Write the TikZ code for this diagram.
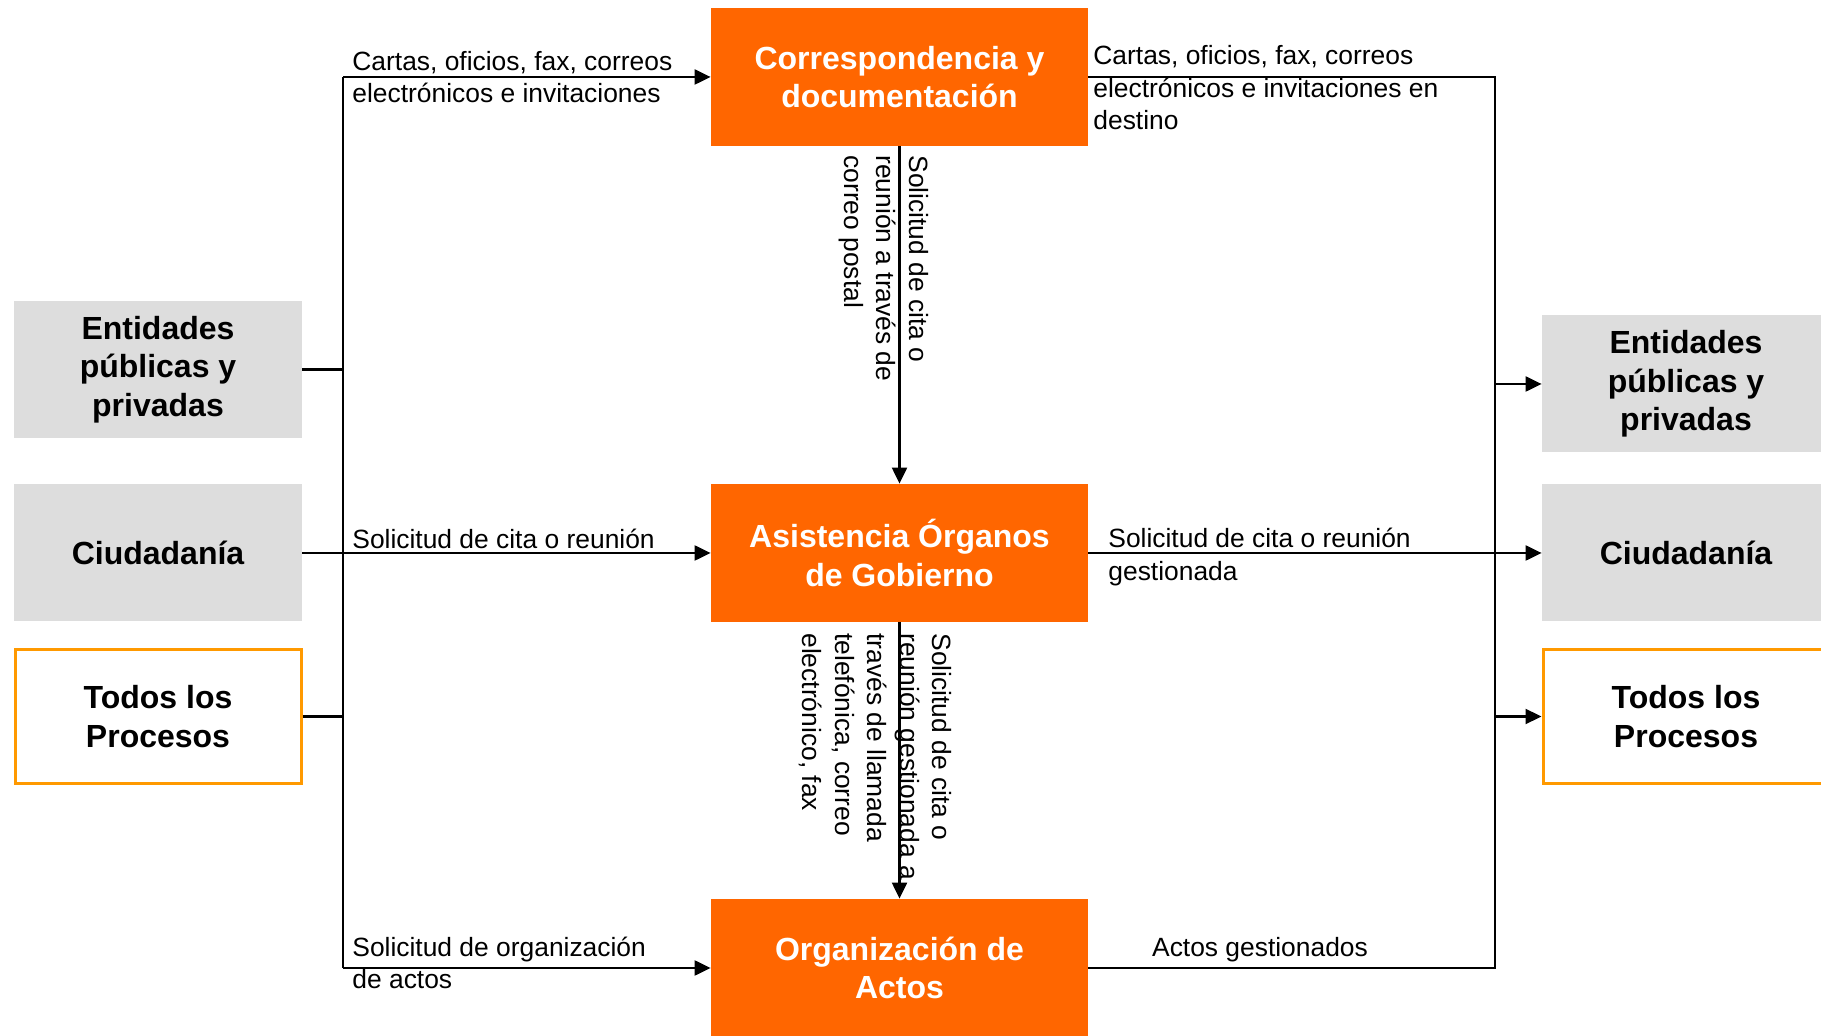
\documentclass[tikz,border=0pt]{standalone}
\usepackage{fontspec}
\setmainfont{Liberation Sans}
\usetikzlibrary{arrows.meta}
\definecolor{naranja}{HTML}{FF6600}
\definecolor{gris}{HTML}{DDDDDD}
\definecolor{borde}{HTML}{FF9900}

\begin{document}
\begin{tikzpicture}[x=0.5pt, y=-0.5pt,
    proceso/.style={fill=naranja, text=white, font=\fontsize{16}{19.25}\selectfont\bfseries,
      minimum width=188.5pt, minimum height=69pt, align=center, inner sep=0pt},
    actor/.style={fill=gris, font=\fontsize{16}{19.25}\selectfont\bfseries,
      minimum width=144pt, minimum height=68.5pt, align=center, inner sep=0pt},
    todos/.style={actor, fill=white, draw=borde, line width=1.5pt, minimum width=143pt, minimum height=67pt},
    etiqueta/.style={font=\fontsize{13.2}{16.25}\selectfont, align=left, inner sep=0pt},
    linea/.style={line width=1.1pt},
    flujo/.style={linea, -{Triangle[length=8pt, width=7.5pt]}}]

          \clip (0,0) rectangle (1821,1036);

          \node[proceso] (corr) at (899.5, 77) {Correspondencia y\\documentación};
          \node[proceso] (asis) at (899.5, 553) {Asistencia Órganos\\de Gobierno};
          \node[proceso] (orga) at (899.5, 968) {Organización de\\Actos};

          \node[actor] (entL) at (158, 369.5) {Entidades\\públicas y\\privadas};
          \node[actor] (ciuL) at (158, 553) {Ciudadanía};
          \node[todos] (todL) at (158, 716.5) {Todos los\\Procesos};

          \node[actor] (entR) at (1686, 384) {Entidades\\públicas y\\privadas};
          \node[actor] (ciuR) at (1686, 553) {Ciudadanía};
          \node[todos] (todR) at (1686, 716.5) {Todos los\\Procesos};

          \coordinate (busLtop) at (343, 77);
          \coordinate (busLbot) at (343, 968);
          \coordinate (busRtop) at (1495, 77);
          \coordinate (busRbot) at (1495, 968);

          % entradas
          \draw [linea] (busLtop) -- (busLbot);
          \draw [linea] (entL.east) -- (entL.east -| busLtop);
          \draw [linea] (todL.east) -- (todL.east -| busLtop);
          \draw [flujo] (busLtop) -- (corr.west);
          \draw [flujo] (ciuL.east) -- (asis.west);
          \draw [flujo] (busLbot) -- (orga.west);

          % salidas
          \draw [linea] (corr.east) -- (busRtop) -- (busRbot) -- (orga.east);
          \draw [flujo] (asis.east) -- (ciuR.west);
          \draw [flujo] (entR.west -| busRtop) -- (entR.west);
          \draw [flujo] (todR.west -| busRtop) -- (todR.west);

          \draw [flujo] (corr) -- (asis);
          \draw [flujo] (asis) -- (orga);

          \node[etiqueta, anchor=west] (lab1) at (352, 77) {Cartas, oficios, fax, correos\\electrónicos e invitaciones};
          \node[etiqueta, anchor=west] (lab2) at (1093, 88) {Cartas, oficios, fax, correos\\electrónicos e invitaciones en\\destino};
          \node[etiqueta, anchor=west] (lab3) at (352, 539) {Solicitud de cita o reunión};
          \node[etiqueta, anchor=west] (lab4) at (1108, 557) {Solicitud de cita o reunión\\gestionada};
          \node[etiqueta, anchor=west] (lab5) at (352, 963) {Solicitud de organización\\de actos};
          \node[etiqueta] (lab6) at (1260, 949.5) {Actos gestionados};

          \node[etiqueta, rotate=-90, anchor=north west] (vlab1) at (929, 155)
            {Solicitud de cita o\\reunión a través de\\correo postal};
          \node[etiqueta, rotate=-90, anchor=north west] (vlab2) at (952.5, 633)
            {Solicitud de cita o\\reunión gestionada a\\través de llamada\\telefónica, correo\\electrónico, fax};

        \end{tikzpicture}
\end{document}
